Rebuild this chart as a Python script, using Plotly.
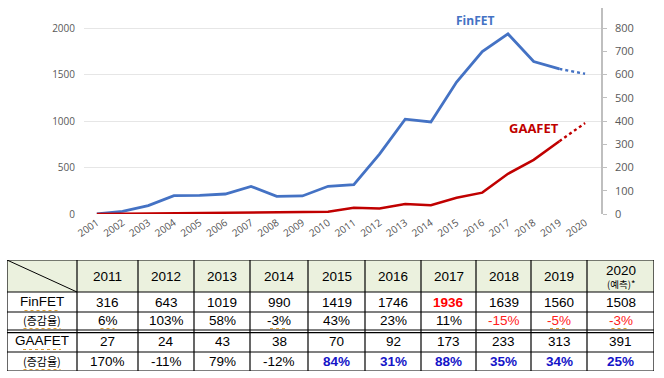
import plotly.graph_objects as go

# ---------------- data ----------------
years = list(range(2001, 2021))
finfet = [0, 29, 90, 197, 200, 215, 297, 190, 194, 298,
          316, 643, 1019, 990, 1419, 1746, 1936, 1639, 1560, 1508]
gaafet = [0, 1, 2, 3, 5, 6, 7, 9, 7, 10,
          27, 24, 43, 38, 70, 92, 173, 233, 313, 391]

table_years = ["2011", "2012", "2013", "2014", "2015", "2016", "2017", "2018", "2019", "2020"]
finfet_tbl = [316, 643, 1019, 990, 1419, 1746, 1936, 1639, 1560, 1508]
finfet_growth = ["6%", "103%", "58%", "-3%", "43%", "23%", "11%", "-15%", "-5%", "-3%"]
gaafet_tbl = [27, 24, 43, 38, 70, 92, 173, 233, 313, 391]
gaafet_growth = ["170%", "-11%", "79%", "-12%", "84%", "31%", "88%", "35%", "34%", "25%"]
row_labels = ["FinFET", "(증감율)", "GAAFET", "(증감율)"]
forecast_note = "(예측)*"

left_ticks = [0, 500, 1000, 1500, 2000]
right_ticks = [0, 100, 200, 300, 400, 500, 600, 700, 800]

# spell-check style dotted underlines seen in the source table: (column, row, width px)
squiggles = [(0, 1, 35), (0, 2, 37), (0, 3, 38), (0, 4, 37),
             (1, 2, 14), (4, 2, 18), (9, 2, 18), (10, 2, 18)]

# ---------------- geometry helpers ----------------
W, H = 664, 378
def fx(px):
    return px / W
def fy(py):
    return 1 - py / H

BLUE = "#4472C4"
RED = "#C00000"
GRAY = "#595959"

fig = go.Figure()

fig.add_trace(go.Scatter(x=years[:-1], y=finfet[:-1], mode="lines",
                         line=dict(color=BLUE, width=2.8), yaxis="y", xaxis="x",
                         showlegend=False, hoverinfo="skip"))
fig.add_trace(go.Scatter(x=years[-2:], y=finfet[-2:], mode="lines",
                         line=dict(color=BLUE, width=2.4, dash="dot"), yaxis="y", xaxis="x",
                         showlegend=False, hoverinfo="skip"))
fig.add_trace(go.Scatter(x=years[:-1], y=gaafet[:-1], mode="lines",
                         line=dict(color=RED, width=2.5), yaxis="y2", xaxis="x",
                         showlegend=False, hoverinfo="skip"))
fig.add_trace(go.Scatter(x=years[-2:], y=gaafet[-2:], mode="lines",
                         line=dict(color=RED, width=2.4, dash="dot"), yaxis="y2", xaxis="x",
                         showlegend=False, hoverinfo="skip"))

# ---------------- table (drawn on its own hidden axes x3/y3, px units) ----------------
table_font = "Liberation Sans Narrow, Arial Narrow, Liberation Sans, Noto Sans CJK KR, sans-serif"
kor_font = "Noto Sans CJK KR, sans-serif"
col_w = [70, 61, 56, 56, 58, 57, 56, 55, 55, 56, 67]
row_h = [32, 20, 18, 22, 19]
tx0, ty0 = 7, 260
TW, TH = sum(col_w), sum(row_h)

col_edges = [0]
for w in col_w:
    col_edges.append(col_edges[-1] + w)
row_edges = [0]
for h in row_h:
    row_edges.append(row_edges[-1] + h)
col_mid = [(col_edges[i] + col_edges[i + 1]) / 2 for i in range(len(col_w))]
row_mid = [(row_edges[i] + row_edges[i + 1]) / 2 for i in range(len(row_h))]

shapes = []
shapes.append(dict(type="rect", xref="x3", yref="y3", x0=0, x1=TW, y0=0, y1=row_edges[1],
                   fillcolor="#EBF1DE", line=dict(width=0), layer="below"))
for i, yv in enumerate(row_edges):
    shapes.append(dict(type="line", xref="x3", yref="y3", x0=0, x1=TW, y0=yv, y1=yv,
                       line=dict(color="black", width=1.2)))
dbl = row_edges[3] + 2.6
shapes.append(dict(type="line", xref="x3", yref="y3", x0=0, x1=TW, y0=dbl, y1=dbl,
                   line=dict(color="black", width=1.2)))
for xv in col_edges:
    shapes.append(dict(type="line", xref="x3", yref="y3", x0=xv, x1=xv, y0=0, y1=TH,
                       line=dict(color="black", width=1.2)))
shapes.append(dict(type="line", xref="x3", yref="y3", x0=0, y0=0, x1=col_w[0], y1=row_h[0],
                   line=dict(color="black", width=1)))
for ci, ri, wdt in squiggles:
    yy = min(row_mid[ri] + 8.5, row_edges[ri + 1] - 1.5)
    shapes.append(dict(type="line", xref="x3", yref="y3",
                       x0=col_mid[ci] - wdt / 2, x1=col_mid[ci] + wdt / 2, y0=yy, y1=yy,
                       line=dict(color="#E0A030", width=1.2, dash="dot")))

ann = []
def cell(ci, ri, text, color="black", size=13.5, family=table_font, dy=0):
    ann.append(dict(x=col_mid[ci], y=row_mid[ri] + dy, xref="x3", yref="y3", text=text,
                    showarrow=False, xanchor="center", yanchor="middle",
                    font=dict(family=family, size=size, color=color)))

for i, y in enumerate(table_years):
    if i == len(table_years) - 1:
        cell(i + 1, 0, y, dy=-6)
        cell(i + 1, 0, forecast_note, size=9.5, family=kor_font, dy=8)
    else:
        cell(i + 1, 0, y)

cell(0, 1, row_labels[0], dy=-1)
cell(0, 2, row_labels[1], size=11, family=kor_font, dy=-1)
cell(0, 3, row_labels[2], dy=-1)
cell(0, 4, row_labels[3], size=11, family=kor_font, dy=-1)

for i, y in enumerate(table_years):
    yr = int(y)
    fv = str(finfet_tbl[i])
    if finfet_tbl[i] == max(finfet_tbl):
        cell(i + 1, 1, "<b>" + fv + "</b>", color="#FF0000")
    else:
        cell(i + 1, 1, fv)
    cell(i + 1, 2, finfet_growth[i], color="#FF2020" if yr >= 2018 else "black", dy=-1)
    cell(i + 1, 3, str(gaafet_tbl[i]))
    if yr >= 2015:
        cell(i + 1, 4, "<b>" + gaafet_growth[i] + "</b>", color="#1414C8")
    else:
        cell(i + 1, 4, gaafet_growth[i])

ann.append(dict(x=2015.7, y=2086, xref="x", yref="y", text="<b>FinFET</b>", showarrow=False,
                font=dict(size=12, color=BLUE, family="Open Sans, sans-serif")))
ann.append(dict(x=2018.0, y=368, xref="x", yref="y2", text="<b>GAAFET</b>", showarrow=False,
                font=dict(size=13, color=RED, family="Open Sans, sans-serif")))

# ---------------- layout ----------------
plot_l, plot_r, plot_t, plot_b = 84, 601, 8, 214
ymax_left = 2000 * (plot_b - plot_t) / 186.0
fig.update_layout(
    width=W, height=H,
    margin=dict(l=0, r=0, t=0, b=0, autoexpand=False),
    paper_bgcolor="white", plot_bgcolor="white",
    font=dict(family="Open Sans, Noto Sans, sans-serif", color=GRAY),
    showlegend=False,
    xaxis=dict(domain=[fx(plot_l), fx(plot_r)], range=[2000.5, 2020.62],
               tickvals=years, ticktext=[str(y) for y in years], tickangle=-35,
               tickfont=dict(size=10, color="#505050"), showgrid=False, showline=False,
               zeroline=False, ticks="", anchor="y", automargin=False, fixedrange=True),
    yaxis=dict(domain=[fy(plot_b), fy(plot_t)], range=[0, ymax_left],
               tickvals=left_ticks, showgrid=True, gridcolor="#E6E6E6", gridwidth=1,
               zeroline=False, showline=False, ticks="",
               tickfont=dict(size=10, color=GRAY), ticklabelstandoff=8, anchor="x",
               automargin=False, fixedrange=True),
    yaxis2=dict(overlaying="y", side="right", anchor="x", range=[0, ymax_left / 2.5],
                tickvals=right_ticks, showgrid=False, zeroline=False,
                showline=True, linecolor="#BFBFBF", linewidth=1.5,
                ticks="outside", ticklen=4, tickcolor="#BFBFBF",
                tickfont=dict(size=11, color=GRAY), ticklabelstandoff=6,
                automargin=False, fixedrange=True),
    xaxis3=dict(domain=[fx(tx0), fx(tx0 + TW)], range=[0, TW], visible=False,
                anchor="y3", automargin=False, fixedrange=True),
    yaxis3=dict(domain=[fy(ty0 + TH), fy(ty0)], range=[TH, 0], visible=False,
                anchor="x3", automargin=False, fixedrange=True),
    shapes=shapes,
    annotations=ann,
)

fig.add_trace(go.Scatter(x=[0, TW], y=[0, TH], xaxis="x3", yaxis="y3", mode="markers",
                         marker=dict(opacity=0), hoverinfo="skip", showlegend=False))

fig.write_html("out.html", config={"displayModeBar": False},
               post_script="document.body.style.margin='0';document.body.style.overflow='hidden';")
